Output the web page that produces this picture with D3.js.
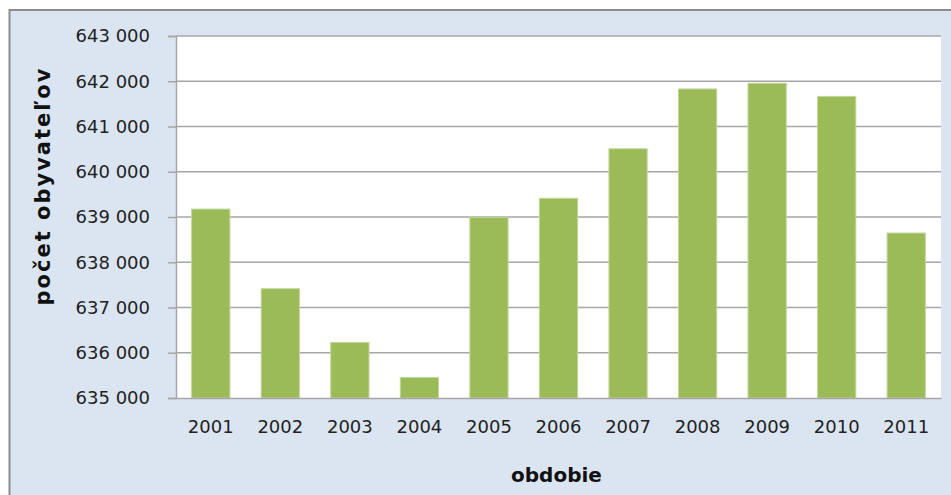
<!DOCTYPE html>
<html>
<head>
<meta charset="utf-8">
<script src="https://cdn.jsdelivr.net/npm/d3@7"></script>
<style>
html,body{margin:0;padding:0;background:#fff;}
svg{display:block;}
</style>
</head>
<body>
<svg id="chart" width="951" height="495"></svg>
<script>
const years = ["2001","2002","2003","2004","2005","2006","2007","2008","2009","2010","2011"];
const population = [639175, 637415, 636228, 635455, 638993, 639413, 640508, 641830, 641955, 641665, 638646];
const yTicks = [635000, 636000, 637000, 638000, 639000, 640000, 641000, 642000, 643000];
const xTitle = "obdobie";
const yTitle = "počet obyvateľov";

const svg = d3.select("#chart");
const W = 951, H = 495;
const plot = {left: 176, right: 941, top: 36, bottom: 398};

// outer chart area
svg.append("rect").attr("x", 9.5).attr("y", 10).attr("width", W).attr("height", H)
  .attr("fill", "#dbe5f1").attr("stroke", "#8c8c8c").attr("stroke-width", 2);

// plot area
svg.append("rect").attr("x", plot.left).attr("y", plot.top)
  .attr("width", plot.right - plot.left).attr("height", plot.bottom - plot.top)
  .attr("fill", "#ffffff");

const x = d3.scaleBand().domain(years).range([plot.left, plot.right])
  .paddingInner(0.45).paddingOuter(0.225);
const y = d3.scaleLinear().domain([635000, 643000]).range([plot.bottom, plot.top]);

const fmt = d3.formatLocale({decimal: ",", thousands: " ", grouping: [3], currency: ["", " €"]}).format(",d");

// gridlines
svg.append("g").selectAll("line").data(yTicks.filter(t => t > 635000)).join("line")
  .attr("x1", plot.left).attr("x2", plot.right)
  .attr("y1", d => y(d)).attr("y2", d => y(d))
  .attr("stroke", "#a6a6a6").attr("stroke-width", 1.5);

// y axis
const yAxis = svg.append("g").attr("transform", `translate(${plot.left},0)`)
  .call(d3.axisLeft(y).tickValues(yTicks).tickFormat(fmt).tickSize(8).tickPadding(18));
yAxis.select(".domain").attr("stroke", "#a6a6a6").attr("stroke-width", 1.5);
yAxis.selectAll(".tick line").attr("stroke", "#a6a6a6").attr("stroke-width", 1.5);
yAxis.selectAll(".tick text").attr("font-family", "DejaVu Sans").attr("font-size", 18)
  .attr("fill", "#222");

// bars
svg.append("g").selectAll("rect").data(years).join("rect")
  .attr("x", d => x(d)).attr("width", x.bandwidth())
  .attr("y", (d, i) => y(population[i]))
  .attr("height", (d, i) => y(635000) - y(population[i]))
  .attr("fill", "#9bbb59").attr("stroke", "#c3d69b").attr("stroke-width", 1);

// x axis
const xAxis = svg.append("g").attr("transform", `translate(0,${plot.bottom})`)
  .call(d3.axisBottom(x).tickSize(0).tickPadding(22));
xAxis.select(".domain").attr("stroke", "#a6a6a6").attr("stroke-width", 1.5);
xAxis.selectAll(".tick text").attr("font-family", "DejaVu Sans").attr("font-size", 18)
  .attr("fill", "#222");

// titles
svg.append("text").attr("x", (plot.left + plot.right) / 2 - 2).attr("y", 482)
  .attr("text-anchor", "middle").attr("font-family", "DejaVu Sans").attr("font-weight", "bold")
  .attr("font-size", 20).attr("fill", "#111").text(xTitle);

svg.append("text").attr("transform", "translate(50,186) rotate(-90)")
  .attr("text-anchor", "middle").attr("font-family", "DejaVu Sans").attr("font-weight", "bold")
  .attr("font-size", 21).attr("letter-spacing", 2).attr("fill", "#111").text(yTitle);
</script>
</body>
</html>
